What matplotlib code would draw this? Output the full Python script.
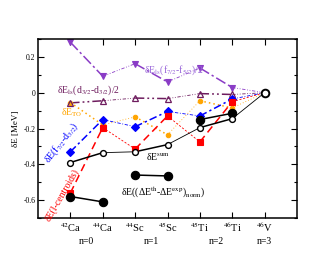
import matplotlib
matplotlib.use("Agg")
import matplotlib.pyplot as plt
import matplotlib.transforms as mtrans

plt.rcParams['font.family'] = ['Liberation Serif', 'DejaVu Serif']
plt.rcParams['mathtext.fontset'] = 'stix'

nuclei = ["$^{42}$Ca", "$^{44}$Ca", "$^{44}$Sc", "$^{45}$Sc", "$^{45}$Ti", "$^{46}$Ti", "$^{46}$V"]
groups = ["n=0", "n=1", "n=2", "n=3"]
group_pos = [0.5, 2.5, 4.5, 6.0]

ls_f = [0.282, 0.092, 0.162, 0.06, 0.138, 0.029, 0.0]
ls_d = [-0.057, -0.045, -0.03, -0.033, -0.005, -0.01, 0.0]
e_to = [-0.055, -0.18, -0.135, -0.235, -0.045, -0.085, 0.0]
f_d = [-0.33, -0.15, -0.19, -0.105, -0.13, -0.035, 0.0]
l_cent = [-0.56, -0.195, -0.315, -0.13, -0.275, -0.05, 0.0]
e_sum = [-0.39, -0.335, -0.33, -0.29, -0.195, -0.145, 0.0]
e_norm = [-0.58, -0.61, -0.46, -0.465, -0.15, -0.115]

W, H = 334, 258
fig = plt.figure(figsize=(W/100, H/100), dpi=100)
ax = fig.add_axes([38/W, 1-218/H, 259/W, 179/H])
x = list(range(len(nuclei)))

THICK = 1.1
THIN = 0.6

def series(vals, color, thick_ls, thin_ls, marker, ms, mfc, mew=0.8, z=2, connectors=True):
    xs = list(range(len(vals)))
    for i in range(len(vals) - 1):
        if i % 2 == 0:
            ax.plot(xs[i:i+2], vals[i:i+2], color=color, lw=THICK, linestyle=thick_ls, zorder=z)
        elif connectors:
            ax.plot(xs[i:i+2], vals[i:i+2], color=color, lw=THIN, linestyle=thin_ls, zorder=z)
    ax.plot(xs[:6], vals[:6], linestyle='none', marker=marker, ms=ms, mfc=mfc,
            mec=color, mew=mew, zorder=z + 0.5)

purple = '#8a3cc6'
dpurple = '#6e1c5e'
orange = '#ffa500'

series(ls_f, purple, (0, (7, 2, 1.5, 2)), (0, (4, 2, 1, 2, 1, 2)), 'v', 4.5, purple, z=2)
series(e_to, orange, (0, (1, 2)), (0, (1, 2.5)), 'o', 3.2, orange, z=2.2)
series(ls_d, dpurple, (0, (6, 2, 1.2, 2, 1.2, 2)), (0, (4, 2, 1, 2, 1, 2)), '^', 4.2, 'none', mew=0.9, z=2.4)
series(f_d, 'blue', (0, (5, 2, 1.5, 2)), (0, (4, 2, 1, 2)), 'D', 3.6, 'blue', z=2.6)
series(l_cent, 'red', (0, (5, 3)), (0, (2.5, 2)), 's', 3.8, 'red', z=2.8)
series(e_sum, 'black', '-', '-', 'o', 4.2, 'white', mew=1.0, z=3.2)
series(e_norm, 'black', '-', '-', 'o', 6.0, 'black', z=3.0, connectors=False)
ax.plot([6], [e_sum[6]], linestyle='none', marker='o', ms=5.5, mfc='white', mec='black', mew=1.4, zorder=4)

ax.set_xlim(-1, 7)
ax.set_ylim(-0.7, 0.3)
ax.set_xticks(x)
ax.set_xticklabels(nuclei, fontsize=7.5)
ax.set_yticks([-0.6, -0.4, -0.2, 0, 0.2])
ax.set_yticklabels(['-0.6', '-0.4', '-0.2', '0', '0.2'], fontsize=5.5)
ax.set_yticks([-0.7, -0.5, -0.3, -0.1, 0.1, 0.3], minor=True)
ax.tick_params(axis='both', which='both', direction='in', top=True, right=True, width=0.8)
ax.tick_params(axis='both', which='major', length=4, pad=2)
ax.tick_params(axis='y', which='minor', length=2.5)
ax.tick_params(axis='x', which='minor', top=False, bottom=False)
for s in ax.spines.values():
    s.set_linewidth(1.1)
ax.set_ylabel("δE [MeV]", fontsize=6.5, labelpad=2)

trans = mtrans.blended_transform_factory(ax.transData, ax.transAxes)
for g, p in zip(groups, group_pos):
    ax.text(p, -0.13, g, transform=trans, ha='center', va='center', fontsize=7)

def label(px, py, s, **kw):
    fig.text(px / W, 1 - py / H, s, ha='center', va='center', fontsize=7, **kw)

label(174, 70, r"δE$_{\rm ls}$(f$_{7/2}$-f$_{5/2}$)/2", color='#9966d9')
label(89, 90, r"δE$_{\rm ls}$(d$_{3/2}$-d$_{3/2}$)/2", color=dpurple)
label(72, 113, r"δE$_{\rm TO}$", color=orange)
label(62, 143, r"δE(f$_{7/2}$-d$_{3/2}$)", color='blue', rotation=52)
label(62, 195, r"δE(l-centroids)", color='red', rotation=60)
label(158, 157, r"δE$^{\rm sum}$", color='black')
label(163, 192, r"δE((ΔE$^{\rm th}$-ΔE$^{\rm exp}$)$_{\rm norm}$)", color='black')

fig.savefig("out.png", dpi=100)
